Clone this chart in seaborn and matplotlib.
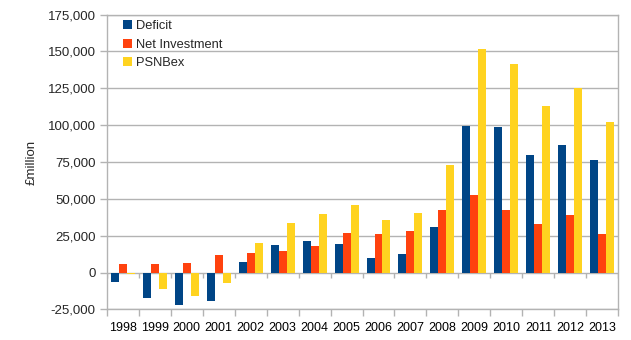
import matplotlib
matplotlib.use("Agg")
import matplotlib.pyplot as plt
import seaborn as sns
import pandas as pd
import numpy as np
from matplotlib.ticker import FuncFormatter, FixedLocator

years = [str(y) for y in range(1998, 2014)]
deficit = [-6400, -17000, -21700, -19500, 7400, 19000, 21200, 19400, 9900, 12400, 30700, 99500, 99000, 80000, 86400, 76200]
net_investment = [5900, 5900, 6300, 12200, 13100, 14900, 18300, 26900, 26400, 28000, 42700, 52700, 42300, 33200, 38900, 26000]
psnbex = [-700, -11000, -15600, -7300, 20300, 33700, 39500, 46100, 35900, 40200, 73000, 152000, 141300, 112800, 125000, 102000]
series_names = ["Deficit", "Net Investment", "PSNBex"]
colors = ["#004586", "#ff420e", "#ffd320"]

df = pd.DataFrame({
    "Year": years * 3,
    "Value": deficit + net_investment + psnbex,
    "Series": [series_names[0]] * len(years) + [series_names[1]] * len(years) + [series_names[2]] * len(years),
})

sns.set_style("white")
plt.rcParams["font.family"] = ["Liberation Sans", "DejaVu Sans"]

fig = plt.figure(figsize=(6.31, 3.40), dpi=100)
ax = fig.add_axes([0.169, 0.090, 0.811, 0.867])

sns.barplot(data=df, x="Year", y="Value", hue="Series", palette=colors,
            width=0.75, gap=0, ax=ax, saturation=1, legend=True, errorbar=None,
            linewidth=0, edgecolor="none")

ax.set_ylim(-25000, 175000)
ax.set_xlim(-0.5, len(years) - 0.5)
ax.set_yticks(np.arange(-25000, 175001, 25000))
ax.yaxis.set_major_formatter(FuncFormatter(lambda v, p: f"{int(v):,}"))
ax.grid(axis="y", color="#b3b3b3", linewidth=1)
ax.set_axisbelow(True)

# x ticks at category boundaries, labels at centres
bounds = np.arange(-0.5, len(years), 1.0)
ax.xaxis.set_major_locator(FixedLocator(bounds))
ax.xaxis.set_major_formatter(FuncFormatter(lambda v, p: ""))
ax.xaxis.set_minor_locator(FixedLocator(np.arange(len(years))))
ax.set_xticklabels(years, minor=True)
ax.tick_params(axis="x", which="major", length=5, width=1, color="#b3b3b3", direction="out", bottom=True)
ax.tick_params(axis="x", which="minor", length=0, pad=9, labelsize=9, labelcolor="black")
ax.tick_params(axis="y", length=5, width=1, color="#b3b3b3", direction="out", left=True, labelsize=9.5, pad=3)

# tick marks hanging below the zero line (about 5 px)
tick_depth = 200000 / 294.8 * 5
ax.vlines(bounds, -tick_depth, 0, color="#b3b3b3", lw=1, zorder=0.8)

for s in ["left", "right", "top", "bottom"]:
    ax.spines[s].set_color("#b3b3b3")
    ax.spines[s].set_linewidth(1)

ax.set_xlabel("")
ax.set_ylabel("£million", fontsize=9.5)
ax.yaxis.set_label_coords(-0.135, 0.5)

leg = ax.legend(loc="upper left", bbox_to_anchor=(0.014, 1.012), frameon=False, fontsize=9.3,
                handlelength=0.7, handleheight=0.7, handletextpad=0.3, labelspacing=0.5, borderaxespad=0.3)

fig.savefig("out.png", dpi=100)
